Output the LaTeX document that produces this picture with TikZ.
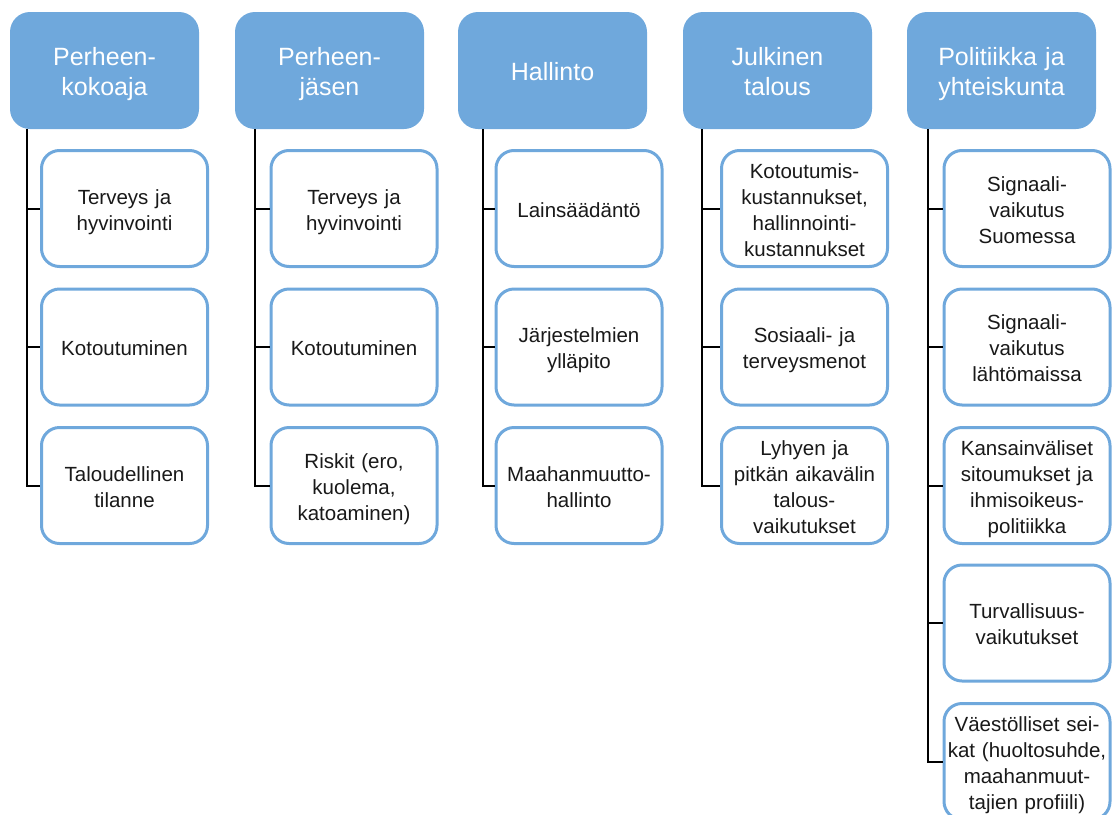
\documentclass[tikz,border=0pt]{standalone}
\usepackage{fontspec}
\setmainfont{Liberation Sans}
\usepackage{tikz}
\usetikzlibrary{calc, positioning}
\definecolor{boxblue}{HTML}{6FA8DC}
\newcommand{\topicstrut}{\rule[-2.75pt]{0pt}{15pt}}
\newcommand{\itemstrut}{\rule[-2.25pt]{0pt}{13pt}}
\tikzset{
    topic/.style={rectangle, rounded corners=10pt, fill=boxblue, text=white, align=center, text width=90pt, minimum width=94.5pt, minimum height=58.5pt, inner sep=2pt, font=\fontsize{12.5}{15}\selectfont,
        execute at begin node=\topicstrut, execute at end node=\topicstrut},
    item/.style={rectangle, rounded corners=9pt, draw=boxblue, line width=1.5pt, fill=white, text=black!90, align=center, text width=80pt, minimum width=83pt, minimum height=58pt, inner xsep=1pt, inner ysep=2pt, font=\fontsize{10.25}{13}\selectfont,
        execute at begin node=\itemstrut, execute at end node=\itemstrut},
    branch/.style={draw=black, line width=1pt}
}

\begin{document}
\begin{tikzpicture}[x=0.5pt, y=-0.5pt]
    \useasboundingbox (0,0) rectangle (1113,814);

    % Column heads
    \node[topic] (h1) at (104.5,70.5) {Perheen-\\kokoaja};
    \node[topic] (h2) at (329.5,70.5) {Perheen-\\jäsen};
    \node[topic] (h3) at (552.5,70.5) {Hallinto};
    \node[topic] (h4) at (777.5,70.5) {Julkinen\\talous};
    \node[topic] (h5) at (1001.5,70.5) {Politiikka ja\\yhteiskunta};

    % Perheenkokoaja
    \node[item] (a1) at (124.5,208.5) {Terveys ja\\hyvinvointi};
    \node[item] (a2) at (124.5,347) {Kotoutuminen};
    \node[item] (a3) at (124.5,485.5) {Taloudellinen\\tilanne};

    % Perheenjasen
    \node[item] (b1) at (354,208.5) {Terveys ja\\hyvinvointi};
    \node[item] (b2) at (354,347) {Kotoutuminen};
    \node[item] (b3) at (354,485.5) {Riskit (ero,\\kuolema,\\katoaminen)};

    % Hallinto
    \node[item] (c1) at (579,208.5) {Lainsäädäntö};
    \node[item] (c2) at (579,347) {Järjestelmien\\ylläpito};
    \node[item] (c3) at (579,485.5) {Maahanmuutto-\\hallinto};

    % Julkinen talous
    \node[item] (d1) at (804.5,208.5) {Kotoutumis-\\kustannukset,\\hallinnointi-\\kustannukset};
    \node[item] (d2) at (804.5,347) {Sosiaali- ja\\terveysmenot};
    \node[item] (d3) at (804.5,485.5) {Lyhyen ja\\pitkän aikavälin\\talous-\\vaikutukset};

    % Politiikka ja yhteiskunta
    \node[item] (e1) at (1027,208.5) {Signaali-\\vaikutus\\Suomessa};
    \node[item] (e2) at (1027,347) {Signaali-\\vaikutus\\lähtömaissa};
    \node[item] (e3) at (1027,485.5) {Kansainväliset\\sitoumukset ja\\ihmisoikeus-\\politiikka};
    \node[item] (e4) at (1027,623) {Turvallisuus-\\vaikutukset};
    \node[item] (e5) at (1027,761.5) {Väestölliset sei-\\kat (huoltosuhde,\\maahanmuut-\\tajien profiili)};

    % Branch lines
    \coordinate (t1) at ($(h1.south west)+(17,0)$);
    \coordinate (t2) at ($(h2.south west)+(20,0)$);
    \coordinate (t3) at ($(h3.south west)+(25,0)$);
    \coordinate (t4) at ($(h4.south west)+(19,0)$);
    \coordinate (t5) at ($(h5.south west)+(21,0)$);

    \draw[branch] (t1) |- (a3.west);
    \draw[branch] (t1 |- a1.west) -- (a1.west);
    \draw[branch] (t1 |- a2.west) -- (a2.west);

    \draw[branch] (t2) |- (b3.west);
    \draw[branch] (t2 |- b1.west) -- (b1.west);
    \draw[branch] (t2 |- b2.west) -- (b2.west);

    \draw[branch] (t3) |- (c3.west);
    \draw[branch] (t3 |- c1.west) -- (c1.west);
    \draw[branch] (t3 |- c2.west) -- (c2.west);

    \draw[branch] (t4) |- (d3.west);
    \draw[branch] (t4 |- d1.west) -- (d1.west);
    \draw[branch] (t4 |- d2.west) -- (d2.west);

    \draw[branch] (t5) |- (e5.west);
    \draw[branch] (t5 |- e1.west) -- (e1.west);
    \draw[branch] (t5 |- e2.west) -- (e2.west);
    \draw[branch] (t5 |- e3.west) -- (e3.west);
    \draw[branch] (t5 |- e4.west) -- (e4.west);
\end{tikzpicture}
\end{document}
